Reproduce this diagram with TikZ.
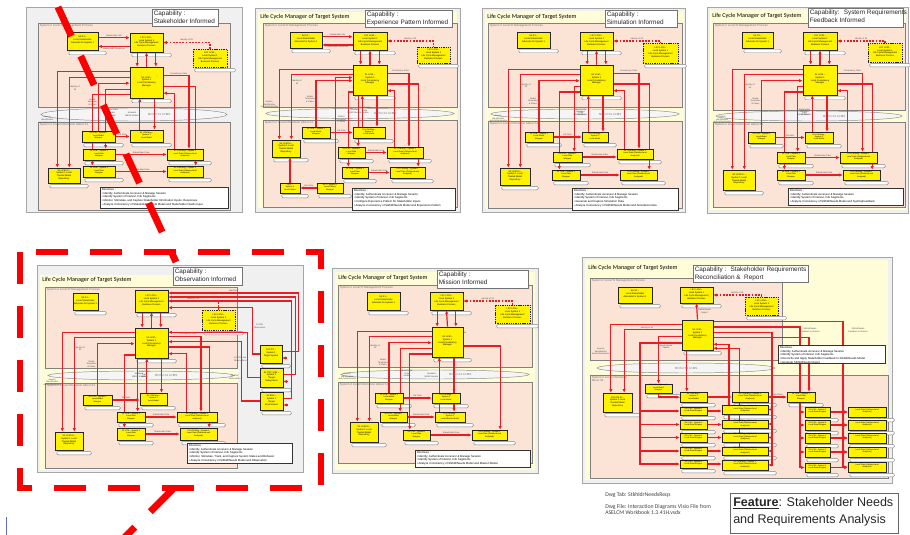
\documentclass[tikz,border=0pt]{standalone}
\usepackage{fontspec}
\setmainfont{Liberation Sans}
\newfontfamily\calib{Carlito}
\usetikzlibrary{arrows.meta,calc,fit}
\definecolor{lnred}{RGB}{232,28,34}
\definecolor{hired}{RGB}{250,0,0}
\definecolor{pinkc}{RGB}{251,228,214}
\definecolor{creamc}{RGB}{255,253,216}
\pgfdeclarelayer{back}\pgfdeclarelayer{mid}\pgfsetlayers{back,mid,main}

% box captions
\newcommand\txSA{SA S1 –\\Local Stakeholder\\Advocate for System 1}
\newcommand\txLSY{LSY LCM –\\Local System 1\\Life Cycle Management\\Business Process}
\newcommand\txCM{S1 LCM –\\System 1\\Local Consistency\\Manager}
\newcommand\txRep{S1 LCM SI –\\System 1 Local\\Trusted Model\\Repository}
\newcommand\txMW{S1 LCM – System 1\\Local Model\\Wrapper}
\newcommand\txLM{S1 LCM Msg –\\System 1\\Local Model}
\newcommand\txDW{S1 LCM – System 1\\Local Data\\Wrapper}
\newcommand\txDG{S1 LCM Msg – System 1\\Local Data (Gathered and\\Analyzed)}
\newcommand\txDWs{S1 LCM – System 1\\Local Data Wrapper}
\newcommand\txDGs{Local Data (Gathered and\\Analyzed)}
\newcommand\dirA{Directives :\\\textbullet\ Identify, Authenticate Accessor \& Manage Session\\\textbullet\ Identify System of Interest, Info Segments}

\tikzset{
  pframe/.style={draw=black!35, fill=black!6, line width=0.5pt},
  creamst/.style={fill=creamc},
  pinkreg/.style={draw=black!50, fill=pinkc, line width=0.35pt},
  bandst/.style={draw=black!45, fill=black!4, line width=0.35pt},
  ybox/.style={draw=black!85, fill=yellow, line width=0.45pt, inner sep=0pt, align=center,
    font=\fontsize{1.7}{2.1}\selectfont},
  lowtxt/.style={font=\fontsize{1.5}{1.8}\selectfont},
  dbox/.style={line width=0.55pt, dash pattern=on 1pt off 0.7pt},
  pillst/.style={draw=black!50, fill=white, rounded corners=1pt, line width=0.3pt},
  capbox/.style={draw=black!55, fill=white, line width=0.45pt, inner sep=0pt},
  capfont/.style={font=\fontsize{4.8}{5.9}\selectfont, text=black!85, inner sep=0pt, align=left},
  dirbox/.style={draw=black!80, fill=white, line width=0.4pt, inner sep=0pt},
  dirfont/.style={font=\fontsize{2.1}{2.8}\selectfont, inner sep=0pt, align=left},
  ttl/.style={font=\calib\fontsize{4.6}{5.6}\selectfont, inner sep=0pt},
  reglbl/.style={font=\fontsize{2.2}{2.6}\selectfont, text=black!55, inner sep=0pt},
  lbl/.style={font=\fontsize{1.6}{1.9}\selectfont, text=black!70, inner sep=0.4pt, align=center},
  rarr/.style={draw=lnred, line width=0.9pt, ->},
  rdash/.style={draw=lnred, line width=0.8pt, dash pattern=on 1.4pt off 1pt},
  bigdash/.style={draw=hired, line width=5.2pt, dash pattern=on 24pt off 16.5pt},
  dwg/.style={font=\calib\fontsize{4.3}{5}\selectfont, text=black!75, inner sep=0pt, align=left},
}

% yellow box spanning two corners
\newcommand\ybx[5][]{\node[ybox,#1,fit={(#3) (#4)}] (#2) {#5};}
% grey caption pill under a box
\newcommand\pl[1]{\draw[pillst] ($(#1.south west)+(2,1)$) rectangle ($(#1.south east)+(8,4.5)$);}
\newcommand\pills[1]{\foreach \n in {#1}{\pl{\n}}}
\newcommand\ptitle[2]{\node[ttl, anchor=west] (ttl) at (#1,#2) {Life Cycle Manager of Target System};}
\newcommand\pcap[5]{%
  \node[capbox, fit={(#1,#2) (#3,#4)}] (cap) {};
  \node[capfont, anchor=north west] (captext) at (#1+1.5,#2+1.5) {#5};}
\newcommand\pdir[5]{%
  \node[dirbox, fit={(#1,#2) (#3,#4)}] (dir) {};
  \node[dirfont, anchor=north west] (dirtext) at (#1+1.5,#2+1) {#5};}
% management region, SDI band, information region
\newcommand\pregs[7]{%
  \draw[pinkreg] (#1,#3) rectangle (#2,#4);
  \node[reglbl, anchor=north west] (ulbl) at (#1+1.5,#3+0.8) {System 2 Local SI Management Process};
  \draw[bandst] ({(#1+#2)/2},{(#4+#5)/2}) ellipse [x radius={(#2-#1)/2-3}, y radius=#7];
  \node[reglbl] (blbl) at ({(#1+#2)/2+25},{(#4+#5)/2}) {SDI for S1 LCMS};
  \draw[pinkreg] (#1,#5) rectangle (#2,#6);
  \node[reglbl, anchor=north west] (llbl) at (#1+1.5,#5+0.8) {System 2 Local Information About S1};}
% connectors shared by the single-source panels
\newcommand\parrows{%
  \draw[rdash,<-] (L.east) -| node[lbl,pos=0.25,above]{Identity of S1} (D.north);
  \draw[rarr] ([xshift=-7pt]L.south) -- ([xshift=-7pt]L.south |- C.north);
  \draw[rarr] (C.north) -- (L.south);
  \draw[rarr] ([xshift=7pt]L.south) -- ([xshift=7pt]L.south |- C.north);
  \draw[rarr] ([yshift=8pt]C.west) -| node[lbl,pos=0.75,left]{Access,\\Identification\\and Authentication} ([xshift=-5pt]R.north);
  \draw[rarr] ([yshift=4pt]C.west) -| node[lbl,pos=0.56,right]{Identity of\\S1} ([xshift=4pt]R.north);
  \draw[rarr] (A.north) |- node[lbl,pos=0.3,left]{Model\\Templates\\\& Views} ([yshift=-0.5pt]C.west);
  \draw[rarr] ([yshift=-5pt]C.west) -| node[lbl,pos=0.7,right]{Stakeholder\\Data\\Update} ([xshift=5pt]Cc.north);
  \draw[rarr] ([yshift=-9pt]C.west) -| ([xshift=-5pt]E.north);
  \draw[rarr] ([xshift=-5pt]B.north) -- node[lbl,left]{Modeled\\MBSE Models} ([xshift=-5pt]B.north |- C.south);
  \draw[rarr] ([xshift=6pt]B.north |- C.south) -- ([xshift=6pt]B.north);
  \draw[rarr] ([yshift=5pt]C.east) -| node[lbl,pos=0.3,above]{Consistency Stats} ([xshift=3pt]Dd.north);
  \draw[rarr] ([yshift=-3pt]C.east) -| ([xshift=8pt]F.north);
  \draw[rarr] ([xshift=-8pt]Dd.north) |- ([yshift=-8pt]C.east);
  \draw[rarr] (A.east) -- node[lbl,above]{Stk Data} (A.east -| B.west);
  \draw[rarr] (Cc.east) -- node[lbl,above]{Stakeholder Data} (Cc.east -| Dd.west);
  \draw[rarr] (E.east) -- node[lbl,above]{Stakeholder Data} (E.east -| F.west);}
\newcommand\sarrows{%
  \draw[rarr] ([yshift=2.5pt]S.east) -- node[lbl,above]{Stakeholder Info} ([yshift=2.5pt]S.east -| L.west);
  \draw[rarr] ([yshift=-3pt]L.west) -- node[lbl,below]{Stakeholder Response} ([yshift=-3pt]L.west -| S.east);}

\begin{document}
\begin{tikzpicture}[x=0.75pt,y=-0.75pt,>={Latex[length=2.6pt,width=2.4pt]}]
\useasboundingbox (0,0) rectangle (910,535);
\clip (0,0) rectangle (910,535);
\begin{pgfonlayer}{back}
  \fill[white] (0,0) rectangle (910,535);
\end{pgfonlayer}

% ---------- Stakeholder Informed ----------
\begin{scope}[shift={(26,7)}, name prefix=p1-]
  \begin{pgfonlayer}{back}
    \draw[pframe] (0,0) rectangle (216,205);
    \pregs{12}{204}{16}{100}{115}{203}{6.5}
  \end{pgfonlayer}
  \pcap{126}{2}{192}{19}{Capability :\\Stakeholder Informed}
  \ybx{S}{41,25}{72,43}{\txSA}
  \ybx{L}{104,26}{137,45}{\txLSY}
  \ybx[dbox]{D}{167,42}{201,60}{\txLSY}
  \ybx{C}{104,60}{137,91}{\txCM}
  \ybx{R}{22,161}{54,176}{\txRep}
  \ybx[lowtxt]{A}{56,124}{89,135}{\txMW}
  \ybx[lowtxt]{B}{104,123}{137,135}{\txLM}
  \ybx[lowtxt]{Cc}{57,142}{89,153}{\txDW}
  \ybx[lowtxt]{Dd}{141,142}{177,153}{\txDG}
  \ybx[lowtxt]{E}{57,159}{89,170}{\txDW}
  \ybx[lowtxt]{F}{141,159}{177,170}{\txDG}
  \pdir{74}{180}{202}{201}{\dirA\\\textbullet\ Monitor, Stimulate, and Capture Stakeholder Information Inputs, Responses\\\textbullet\ Analyze Consistency of Stakeholder Needs Model and Stakeholder Needs Input}
  \begin{pgfonlayer}{back}\pills{S,L,D,C,R,A,B,Cc,Dd,E,F}\end{pgfonlayer}
  \begin{pgfonlayer}{mid}\parrows\sarrows\end{pgfonlayer}
\end{scope}

% ---------- Experience Pattern Informed ----------
\begin{scope}[shift={(255,8)}, name prefix=p2-]
  \begin{pgfonlayer}{back}
    \draw[pframe] (0,0) rectangle (205,204);
    \fill[creamst] (3,4) rectangle (202,200);
    \ptitle{5}{9}
    \pregs{8}{202}{15}{99}{112}{199}{5}
  \end{pgfonlayer}
  \pcap{110}{2}{197}{19}{Capability :\\Experience Pattern Informed}
  \ybx{S}{35,24}{67,40}{\txSA}
  \ybx{L}{98,24}{132,42}{\txLSY}
  \ybx[dbox]{D}{162,39}{195,55}{\txLSY}
  \ybx{C}{98,57}{132,87}{\txCM}
  \ybx{R}{17,132}{45,149}{\txRep}
  \ybx[lowtxt]{A}{47,119}{75,130}{\txMW}
  \ybx[lowtxt]{B}{98,119}{130,130}{\txLM}
  \ybx[lowtxt]{Cc}{83,139}{110,150}{\txDW}
  \ybx[lowtxt]{Dd}{132,139}{168,150}{\txDG}
  \ybx[lowtxt]{E}{87,159}{113,170}{\txDW}
  \ybx[lowtxt]{F}{135,159}{170,170}{\txDG}
  \ybx[lowtxt]{G}{25,175}{45,185}{SP1 –\\System 1\\Local Pattern}
  \ybx[lowtxt]{H}{62,175}{88,185}{SP1 – System 1\\Local Pattern\\Wrapper}
  \pdir{97}{180}{200}{202}{\dirA\\\textbullet\ Configure Experience Pattern for Stakeholder Inputs\\\textbullet\ Analyze Consistency of StkhldrNeeds Model and Experience Pattern}
  \begin{pgfonlayer}{back}\pills{S,L,D,C,R,A,B,Cc,Dd,E,F,G,H}\end{pgfonlayer}
  \begin{pgfonlayer}{mid}
    \parrows\sarrows
    \draw[rarr] (H.west) -- node[lbl,above]{Use Data} (H.west -| G.east);
    \draw[rarr] (G.north) -- (G.north |- R.south);
    \draw[rarr] ([xshift=4pt]H.north) |- node[lbl,pos=0.3,right]{Pattern\\Templates\\\& Views} ([yshift=1.8pt]C.west);
  \end{pgfonlayer}
\end{scope}

% ---------- Simulation Informed ----------
\begin{scope}[shift={(482,8)}, name prefix=p3-]
  \begin{pgfonlayer}{back}
    \draw[pframe] (0,0) rectangle (203,204);
    \fill[creamst] (3,3) rectangle (202,201);
    \ptitle{5}{9}
    \pregs{6}{200}{15}{99}{113}{200}{5}
  \end{pgfonlayer}
  \pcap{123}{2}{195}{19}{Capability :\\Simulation Informed}
  \ybx{S}{35,24}{68,40}{\txSA}
  \ybx{L}{98,24}{131,42}{\txLSY}
  \ybx[dbox]{D}{161,35}{196,55}{\txLSY}
  \ybx{C}{98,57}{131,87}{\txCM}
  \ybx{R}{18,160}{48,177}{\txRep}
  \ybx[lowtxt]{A}{43,124}{71,134}{\txMW}
  \ybx[lowtxt]{B}{100,124}{126,134}{\txLM}
  \ybx[lowtxt]{Cc}{71,144}{100,154}{\txDW}
  \ybx[lowtxt]{Dd}{135,141}{171,151}{\txDG}
  \ybx[lowtxt]{E}{70,162}{98,172}{\txDW}
  \ybx[lowtxt]{F}{138,162}{175,172}{\txDG}
  \pdir{90}{180}{196}{202}{\dirA\\\textbullet\ Generate and Capture Simulation Data\\\textbullet\ Analyze Consistency of StkhldrNeeds Model and Simulation Data}
  \begin{pgfonlayer}{back}\pills{S,L,D,C,R,A,B,Cc,Dd,E,F}\end{pgfonlayer}
  \begin{pgfonlayer}{mid}\parrows\end{pgfonlayer}
\end{scope}

% ---------- System Requirements Feedback Informed ----------
\begin{scope}[shift={(707,7)}, name prefix=p4-]
  \begin{pgfonlayer}{back}
    \draw[pframe] (0,0) rectangle (201,206);
    \fill[creamst] (3,3) rectangle (199,203);
    \ptitle{5}{9}
    \pregs{6}{198}{16}{103}{115}{200}{5}
  \end{pgfonlayer}
  \pcap{101}{1}{196}{20}{Capability: \ System Requirements\\Feedback Informed}
  \ybx{S}{35,25}{66,41}{\txSA}
  \ybx{L}{96,25}{130,43}{\txLSY}
  \ybx[dbox]{D}{161,36}{195,55}{\txLSY}
  \ybx{C}{96,58}{130,88}{\txCM}
  \ybx{R}{16,163}{48,183}{\txRep}
  \ybx[lowtxt]{A}{41,125}{68,136}{\txMW}
  \ybx[lowtxt]{B}{98,125}{126,136}{\txLM}
  \ybx[lowtxt]{Cc}{70,145}{98,156}{\txDW}
  \ybx[lowtxt]{Dd}{133,145}{170,156}{\txDG}
  \ybx[lowtxt]{E}{70,163}{98,173}{\txDW}
  \ybx[lowtxt]{F}{136,163}{173,173}{\txDG}
  \pdir{81}{181}{196}{198}{\dirA\\\textbullet\ Analyze Consistency of StkhldrNeeds Model and SysReqFeedback}
  \begin{pgfonlayer}{back}\pills{S,L,D,C,R,A,B,Cc,Dd,E,F}\end{pgfonlayer}
  \begin{pgfonlayer}{mid}\parrows\end{pgfonlayer}
\end{scope}

% ---------- Observation Informed ----------
\begin{scope}[shift={(37,265)}, name prefix=p5-]
  \begin{pgfonlayer}{back}
    \draw[pframe] (0,0) rectangle (266,207);
    \fill[creamst] (3,10) rectangle (201,205);
    \ptitle{5}{15}
    \pregs{8}{200}{22}{103}{118}{203}{4.5}
  \end{pgfonlayer}
  \pcap{136}{2}{205}{20}{Capability :\\Observation Informed}
  \ybx{S}{36,28}{61,45}{\txSA}
  \ybx{L}{98,25}{131,47}{\txLSY}
  \ybx[dbox]{D}{165,45}{198,65}{\txLSY}
  \ybx{C}{98,63}{131,93}{\txCM}
  \ybx{R}{18,167}{46,185}{\txRep}
  \ybx[lowtxt]{A}{46,130}{75,140}{\txMW}
  \ybx[lowtxt]{B}{103,128}{130,140}{\txLM}
  \ybx[lowtxt]{Cc}{80,147}{108,157}{\txDW}
  \ybx[lowtxt]{Dd}{140,147}{180,157}{\txDG}
  \ybx[lowtxt]{E}{80,163}{108,175}{\txDW}
  \ybx[lowtxt]{F}{143,163}{180,175}{\txDG}
  \ybx{T1}{223,80}{245,98}{S1 TGT –\\System 1\\Target System}
  \ybx{T2}{223,103}{246,122}{S1 TGT SUB –\\System 1\\Target\\Subsystems}
  \ybx{T3}{223,127}{246,145}{S1 ENV –\\System 1\\Target\\Environment}
  \pdir{150}{178}{255}{198}{\dirA\\\textbullet\ Monitor, Stimulate, Track, and Capture System States and Behavior\\\textbullet\ Analyze Consistency of StkhldrNeeds Model and Observation}
  \begin{pgfonlayer}{back}\pills{S,L,D,C,R,A,B,Cc,Dd,E,F,T1,T2,T3}\end{pgfonlayer}
  \begin{pgfonlayer}{mid}
    \parrows
    \draw[rarr] ([yshift=2pt]T1.east) -- ++(16,0) |- node[lbl,pos=0.75,above]{Identities} ([yshift=6pt]L.east);
    \draw[rarr] ([yshift=2pt]T2.east) -- ++(12,0) |- ([yshift=3pt]L.east);
    \draw[rarr] ([yshift=2pt]T3.east) -- ++(8,0) |- (L.east);
    \draw[rarr,<-] ([yshift=-3pt]T1.east) -- ++(5,0);
    \draw[rarr,<-] ([yshift=-3pt]T2.east) -- ++(5,0);
    \draw[rarr,<-] ([yshift=-3pt]T3.east) -- ++(5,0);
    \draw[rarr] (T1.west) -- ++(-7,0) |- node[lbl,pos=0.3,right]{S1 SDI\\Observation} ([yshift=-5pt]L.east);
    \draw[rarr] (T2.west) -- ++(-12,0) |- node[lbl,pos=0.2,left]{S1 SOS Sub\\Observations} ([yshift=8pt]C.east);
    \draw[rarr] (T3.west) -- ++(-18,0) |- node[lbl,pos=0.2,left]{S1 ENV\\Observation} ([yshift=1pt]C.east);
  \end{pgfonlayer}
\end{scope}

% ---------- Mission Informed ----------
\begin{scope}[shift={(332,268)}, name prefix=p6-]
  \begin{pgfonlayer}{back}
    \draw[pframe] (0,0) rectangle (206,205);
    \fill[creamst] (3,4) rectangle (203,202);
    \ptitle{6}{10}
    \pregs{6}{200}{17}{99}{114}{195}{4.5}
  \end{pgfonlayer}
  \pcap{105}{2}{196}{20}{Capability :\\Mission Informed}
  \ybx{S}{35,24}{68,42}{\txSA}
  \ybx{L}{98,24}{131,42}{\txLSY}
  \ybx[dbox]{D}{163,37}{198,55}{\txLSY}
  \ybx{C}{100,59}{131,89}{\txCM}
  \ybx{R}{18,154}{46,174}{\txRep}
  \ybx[lowtxt]{A}{43,125}{71,135}{\txMW}
  \ybx[lowtxt]{B}{100,125}{128,135}{\txLM}
  \ybx[lowtxt]{Cc}{48,144}{75,154}{S1 LCM – System 1\\Local Model\\Wrapper}
  \ybx[lowtxt]{Dd}{103,144}{133,154}{S1 LCM Msg –\\System 1\\Local Mission Model}
  \ybx[lowtxt]{E}{71,162}{98,172}{\txDW}
  \ybx[lowtxt]{F}{140,162}{175,172}{\txDG}
  \pdir{83}{182}{198}{199}{\dirA\\\textbullet\ Analyze Consistency of StkhldrNeeds Model and Mission Model}
  \begin{pgfonlayer}{back}\pills{S,L,D,C,R,A,B,Cc,Dd,E,F}\end{pgfonlayer}
  \begin{pgfonlayer}{mid}\parrows\end{pgfonlayer}
\end{scope}

% ---------- Stakeholder Requirements Reconciliation & Report ----------
\begin{scope}[shift={(582,257)}, name prefix=p7-]
  \begin{pgfonlayer}{back}
    \draw[pframe] (0,0) rectangle (310,226);
    \fill[creamst] (3,3) rectangle (306,223);
    \ptitle{6}{11}
    \draw[pinkreg] (8,21) rectangle (200,103);
    \node[reglbl, anchor=north west] (ulbl) at (9.5,21.8) {System 2 Local SI Management Process};
    \draw[bandst] (104,111) ellipse [x radius=89, y radius=5];
    \node[reglbl] (blbl) at (104,111) {SDI for S1 LCMS};
    \draw[pinkreg] (8,118) rectangle (306,221);
    \node[reglbl, anchor=north west, align=left] (llbl) at (9.5,118.8) {System 2 Local Information\\About S1};
  \end{pgfonlayer}
  \pcap{111}{8}{226}{25}{Capability : \ Stakeholder Requirements\\Reconciliation \& \ Report}
  \ybx{S}{36,30}{70,46}{\txSA}
  \ybx{L}{98,30}{131,46}{\txLSY}
  \ybx[dbox]{D}{163,40}{196,58}{\txLSY}
  \ybx{C}{100,63}{131,93}{\txCM}
  \ybx{R}{21,136}{50,155}{\txRep}
  \ybx[lowtxt]{W}{63,127}{90,136}{\txMW}
  \ybx[lowtxt]{M}{98,135}{125,145}{\txLM}
  \ybx[lowtxt]{TC}{150,135}{186,145}{\txDG}
  \ybx[lowtxt]{TR}{205,135}{233,145}{\txDW}
  \foreach \i/\ta/\tb in {1/150/158,2/163/172,3/176/185,4/190/198,5/203/211}{\ybx[lowtxt]{K\i}{98,\ta}{125,\tb}{\txDWs}}
  \foreach \i/\ta/\tb in {1/148/157,2/163/171,3/176/185,4/190/198,5/203/213}{\ybx[lowtxt]{N\i}{140,\ta}{186,\tb}{\txDG}}
  \foreach \i/\ta/\tb in {1/150/160,2/163/173,3/176/186,4/190/200,5/206/215}{\ybx[lowtxt]{P\i}{223,\ta}{248,\tb}{\txDWs}}
  \foreach \i/\ta/\tb in {1/150/160,2/163/173,3/176/186,4/190/200,5/205/215}{\ybx[lowtxt]{Q\i}{266,\ta}{304,\tb}{\txDGs}}
  \pdir{196}{88}{303}{106}{\dirA\\\textbullet\ Reconcile and Apply Stakeholder Feedback to StkhldrNeeds Model\\\textbullet\ Generate StkhldrNeeds Report}
  \begin{pgfonlayer}{back}
    \pills{S,L,D,C,R,W,M,TC,TR,K1,K2,K3,K4,K5,N1,N2,N3,N4,N5,P1,P2,P3,P4,P5,Q1,Q2,Q3,Q4,Q5}
  \end{pgfonlayer}
  \begin{pgfonlayer}{mid}
    \draw[rdash,<-] (L.east) -| node[lbl,pos=0.25,above]{Identity of S1} (D.north);
    \draw[rarr] (C.north) -- node[lbl,right]{StkhldrNeeds\\Report} (L.south);
    \draw[rarr] ([yshift=8pt]C.west) -| node[lbl,pos=0.7,left]{Access,\\Identification\\and Authentication} ([xshift=-5pt]R.north);
    \draw[rarr] ([yshift=4pt]C.west) -| node[lbl,pos=0.3,above]{Identity of S1} ([xshift=5pt]R.north);
    \draw[rarr] ([yshift=-1pt]C.west) -| node[lbl,pos=0.6,right]{Stakeholder\\Needs Model\\Update} (W.north);
    \draw[rarr] ([yshift=-6pt]C.west) -| (58,0 |- K5.west) -- (K5.west);
    \foreach \i in {1,2,3,4}{\draw[rarr] (58,0 |- K\i.west) -- (K\i.west);}
    \draw[rarr] ([xshift=-8pt]C.south) -- ([xshift=-8pt]C.south |- M.north);
    \draw[rarr] (W.south) |- (M.west);
    \draw[rarr] (M.east) -- (M.east -| TC.west);
    \draw[rarr] (TC.east) -- node[lbl,above]{Send Data} (TC.east -| TR.west);
    \foreach \i in {1,...,5}{\draw[rarr] (K\i.east) -- (K\i.east -| N\i.west);}
    \foreach \i in {1,...,5}{\draw[rarr] (P\i.east) -- (P\i.east -| Q\i.west);}
    \draw[rarr] ([yshift=2pt]C.east) -| (190,0 |- N5.east) -- (N5.east);
    \foreach \i in {1,2,3,4}{\draw[rarr] (190,0 |- N\i.east) -- (N\i.east);}
    \draw[rarr] ([yshift=6pt]C.east) -| (218,0 |- P5.west) -- (P5.west);
    \foreach \i in {1,2,3,4}{\draw[rarr] (218,0 |- P\i.west) -- (P\i.west);}
    \draw[rarr] ([yshift=10pt]C.east) -| (261,0 |- Q5.west) -- (Q5.west);
    \foreach \i in {1,2,3,4}{\draw[rarr] (261,0 |- Q\i.west) -- (Q\i.west);}
    \draw[rarr] ([yshift=-2pt]C.east) -| ([xshift=6pt]TR.north);
    \draw[rarr] ([xshift=-12pt]N2.north) |- ([yshift=-7pt]C.east);
    \draw[rarr] ([xshift=-4pt]N4.north) |- ([yshift=-10pt]C.east);
    \node[lbl] (fb1) at (228,73) {StkhldrNeeds\\Feedback to Mission};
    \node[lbl] (fb2) at (276,73) {StkhldrNeeds\\Feedback to Mission};
  \end{pgfonlayer}
\end{scope}

% ---------- drawing reference and feature title ----------
\node[dwg, anchor=west] (dwgtab) at (605,495) {Dwg Tab: StkhldrNeedsReqs};
\node[dwg, anchor=north west] (dwgfile) at (605,504) {Dwg File: Interaction Diagrams Visio File from\\ASELCM Workbook 1.3.41H.vsdx};
\node[draw=black!60, line width=0.6pt, inner sep=0pt, fit={(730,493) (898,533)}] (featbox) {};
\node[anchor=north west, align=left, inner sep=0pt, text=black!85,
      font=\fontsize{9.4}{12.5}\selectfont] (feat) at (733,497)
  {\textbf{\underline{Feature}}: Stakeholder Needs\\and Requirements Analysis};

% ---------- highlight of the observation panel ----------
\draw[bigdash] (20,252) rectangle (321,488);
\draw[bigdash] (58,7) -- (176,262);
\draw[bigdash] (173,489) -- (110,552);
\draw[black!45!blue!60, line width=0.6pt] (6.5,517) -- (6.5,535);
\end{tikzpicture}
\end{document}
